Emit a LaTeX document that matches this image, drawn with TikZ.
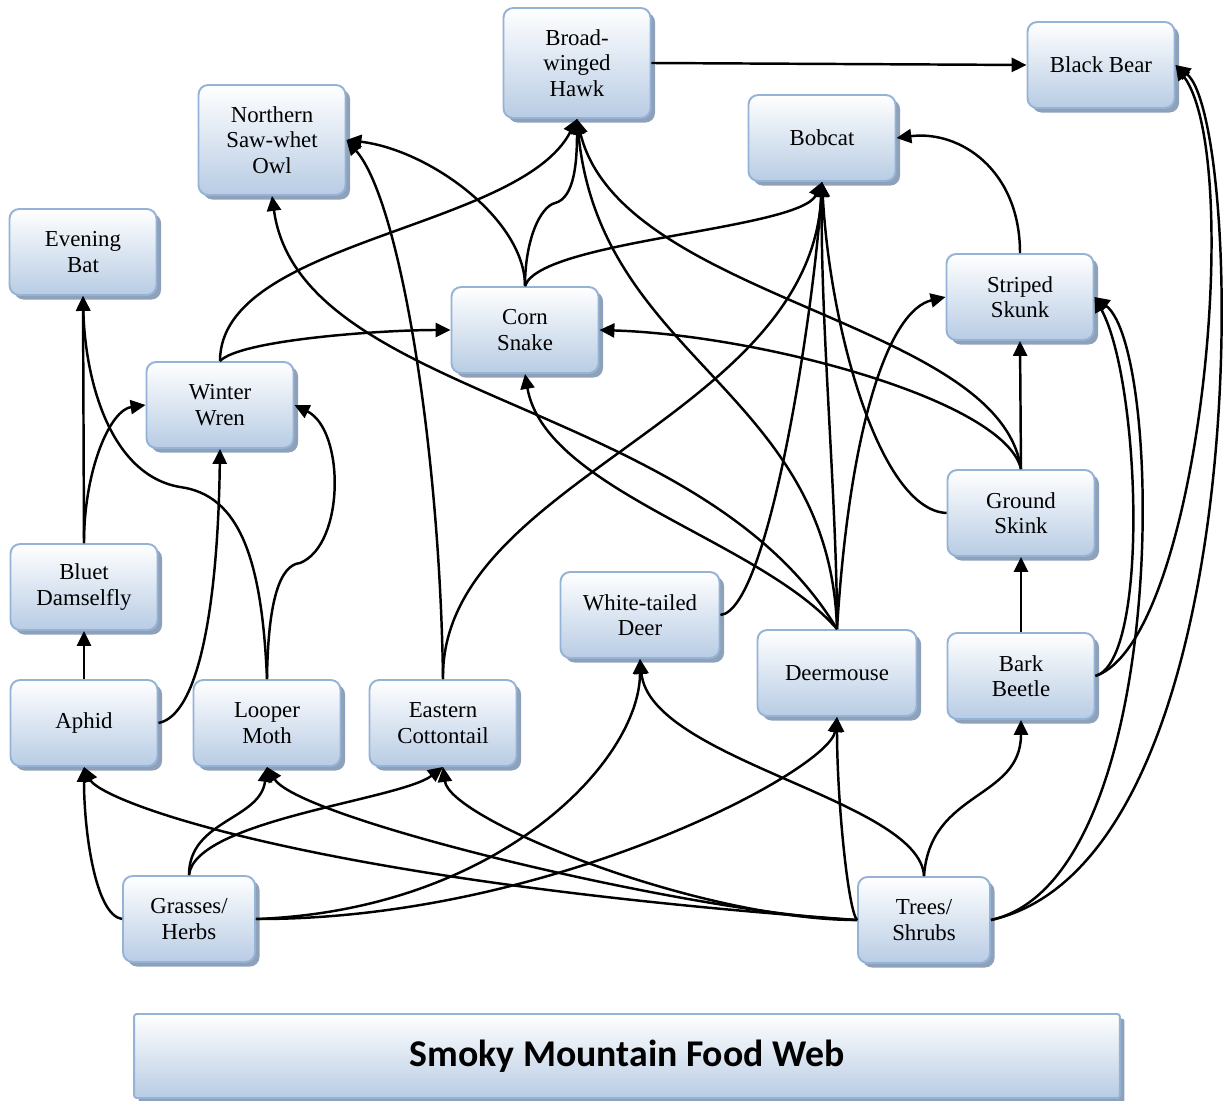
\documentclass[tikz,border=0pt]{standalone}
\usepackage{fontspec}
\setmainfont{Liberation Serif}
\newfontfamily\titlefont{Carlito}
\usetikzlibrary{arrows.meta,shadows}
\definecolor{boxedge}{HTML}{95B3D7}
\definecolor{boxlow}{HTML}{B8CCE4}
\definecolor{boxshade}{HTML}{8EA1B8}
\tikzset{
  taxon/.style={draw=boxedge, line width=1.1pt, rounded corners=5.5pt,
    top color=white, bottom color=boxlow, minimum width=2.94cm, minimum height=1.72cm,
    align=center, inner sep=2pt, font=\fontsize{13}{14.4}\selectfont,
    drop shadow={shadow xshift=2.6pt, shadow yshift=-2.6pt, fill=boxshade, opacity=1}},
  banner/.style={taxon, rounded corners=1.5pt, minimum width=19.72cm, minimum height=1.68cm,
    font=\titlefont\bfseries\fontsize{21.5}{25}\selectfont},
  eats/.style={-{Triangle[length=8.5pt,width=8pt]}, line width=1.4pt},
}

\begin{document}
\begin{tikzpicture}[x=0.02cm, y=-0.02cm, line join=round]
  \useasboundingbox (0,0) rectangle (1230,1101);
  \node[taxon, minimum height=2.2cm] (hawk) at (577,63) {Broad-\\winged\\Hawk};
  \node[taxon] (bear) at (1101,65) {Black Bear};
  \node[taxon, minimum height=2.2cm] (owl) at (272,140) {Northern\\Saw-whet\\Owl};
  \node[taxon] (bobcat) at (822,138) {Bobcat};
  \node[taxon] (bat) at (83,252) {Evening\\Bat};
  \node[taxon] (skunk) at (1020,297) {Striped\\Skunk};
  \node[taxon] (snake) at (525,330) {Corn\\Snake};
  \node[taxon] (wren) at (220,405) {Winter\\Wren};
  \node[taxon] (gskink) at (1021,513) {Ground\\Skink};
  \node[taxon] (damsel) at (84,587) {Bluet\\Damselfly};
  \node[taxon, minimum width=3.18cm] (deer) at (640,615) {White-tailed\\Deer};
  \node[taxon, minimum width=3.18cm] (mouse) at (837,673) {Deermouse};
  \node[taxon] (beetle) at (1021,676) {Bark\\Beetle};
  \node[taxon] (aphid) at (84,723) {Aphid};
  \node[taxon] (moth) at (267,723) {Looper\\Moth};
  \node[taxon] (rabbit) at (443,723) {Eastern\\Cottontail};
  \node[taxon, minimum width=2.64cm] (grass) at (189,919) {Grasses/\\Herbs};
  \node[taxon, minimum width=2.64cm] (trees) at (924,920) {Trees/\\Shrubs};
  \node[banner] (title) at (627,1056) {Smoky Mountain Food Web};

  \draw[eats] (hawk.east) -- (bear.west);
  \draw[eats] (beetle.east) .. controls (1200,640) and (1245,160) .. (bear.east);
  \draw[eats] (trees.east) .. controls (1260,860) and (1245,120) .. (bear.east);
  \draw[eats] (beetle.east) .. controls (1150,660) and (1140,380) .. (skunk.east);
  \draw[eats] (trees.east) .. controls (1170,880) and (1165,350) .. (skunk.east);
  \draw[eats] (skunk.north) .. controls (1020,170) and (960,130) .. (bobcat.east);
  \draw[eats] (gskink.north) -- (skunk.south);
  \draw[eats] (beetle.north) -- (gskink.south);
  \draw[eats] (gskink.north) .. controls (1005,400) and (760,335) .. (snake.east);
  \draw[eats] (gskink.north) .. controls (1000,320) and (620,300) .. (hawk.south);
  \draw[eats] (gskink.west) .. controls (880,510) and (830,330) .. (bobcat.south);
  \draw[eats] (mouse.north) .. controls (837,500) and (820,320) .. (bobcat.south);
  \draw[eats] (deer.east) .. controls (770,610) and (815,300) .. (bobcat.south);
  \draw[eats] (rabbit.north) .. controls (440,480) and (810,420) .. (bobcat.south);
  \draw[eats] (snake.north) .. controls (540,240) and (800,230) .. (bobcat.south);
  \draw[eats] (mouse.north) .. controls (850,420) and (890,310) .. (skunk.west);
  \draw[eats] (mouse.north) .. controls (700,400) and (300,400) .. (owl.south);
  \draw[eats] (mouse.north) .. controls (760,540) and (545,490) .. (snake.south);
  \draw[eats] (mouse.north) .. controls (830,390) and (600,360) .. (hawk.south);
  \draw[eats] (wren.north) .. controls (220,240) and (520,230) .. (hawk.south);
  \draw[eats] (snake.north) .. controls (525,240) and (540,207) .. (555,203)
    .. controls (575,198) and (577,160) .. (hawk.south);
  \draw[eats] (snake.north) .. controls (525,220) and (430,150) .. (owl.east);
  \draw[eats] (rabbit.north) .. controls (440,450) and (400,200) .. (owl.east);
  \draw[eats] (wren.north) .. controls (240,340) and (380,330) .. (snake.west);
  \draw[eats] (damsel.north) -- (bat.south);
  \draw[eats] (damsel.north) .. controls (84,470) and (110,410) .. (wren.west);
  \draw[eats] (aphid.north) -- (damsel.south);
  \draw[eats] (aphid.east) .. controls (200,715) and (218,600) .. (wren.south);
  \draw[eats] (moth.north) .. controls (262,560) and (240,495) .. (180,487)
    .. controls (110,475) and (85,380) .. (bat.south);
  \draw[eats] (moth.north) .. controls (268,600) and (280,565) .. (300,563)
    .. controls (345,545) and (345,430) .. (wren.east);
  \draw[eats] (grass.west) .. controls (95,915) and (84,830) .. (aphid.south);
  \draw[eats] (trees.west) .. controls (300,880) and (100,800) .. (aphid.south);
  \draw[eats] (grass.north) .. controls (189,820) and (260,820) .. (moth.south);
  \draw[eats] (trees.west) .. controls (700,915) and (300,820) .. (moth.south);
  \draw[eats] (grass.north) .. controls (195,820) and (400,800) .. (rabbit.south);
  \draw[eats] (trees.west) .. controls (700,920) and (450,820) .. (rabbit.south);
  \draw[eats] (trees.north) .. controls (920,800) and (650,760) .. (deer.south);
  \draw[eats] (trees.north) .. controls (930,790) and (1021,800) .. (beetle.south);
  \draw[eats] (trees.west) .. controls (848,910) and (837,800) .. (mouse.south);
  \draw[eats] (grass.east) .. controls (550,920) and (830,770) .. (mouse.south);
  \draw[eats] (grass.east) .. controls (500,910) and (640,760) .. (deer.south);
\end{tikzpicture}
\end{document}
